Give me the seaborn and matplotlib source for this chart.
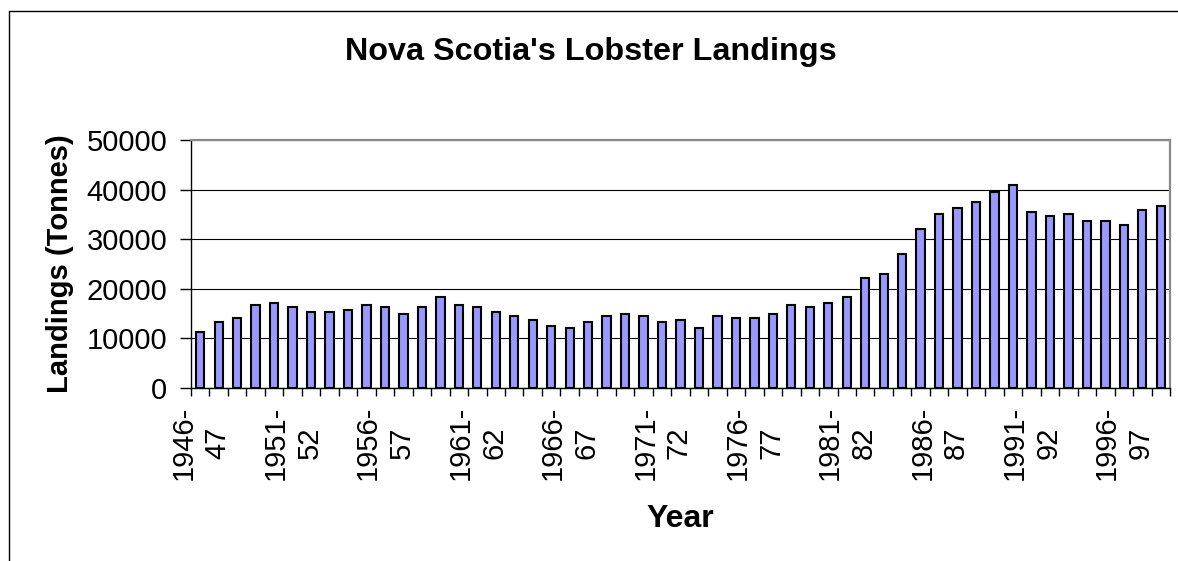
import matplotlib
matplotlib.use("Agg")
import matplotlib.pyplot as plt
from matplotlib.lines import Line2D
import pandas as pd
import seaborn as sns

# Nova Scotia lobster landings by fishing season (tonnes)
seasons = [f"{y}-{(y + 1) % 100:02d}" for y in range(1946, 1999)]
landings = [11300, 13300, 14100, 16700, 17100, 16300, 15400, 15400, 15800, 16700,
            16300, 15000, 16300, 18300, 16700, 16300, 15400, 14600, 13700, 12500,
            12100, 13300, 14600, 15000, 14600, 13300, 13700, 12100, 14600, 14100,
            14100, 15000, 16700, 16300, 17100, 18300, 22100, 22900, 27100, 32100,
            35000, 36300, 37500, 39600, 40900, 35500, 34600, 35000, 33700, 33700,
            32900, 35900, 36700]
tick_labels = ["1946-\n47", "1951-\n52", "1956-\n57", "1961-\n62", "1966-\n67",
               "1971-\n72", "1976-\n77", "1981-\n82", "1986-\n87", "1991-\n92",
               "1996-\n97"]
y_ticks = [0, 10000, 20000, 30000, 40000, 50000]

df = pd.DataFrame({"season": seasons, "landings": landings})

sns.set_theme(style="white")
plt.rcParams["font.family"] = ["Liberation Sans", "DejaVu Sans"]
plt.rcParams["text.color"] = "black"
plt.rcParams["axes.labelcolor"] = "black"
plt.rcParams["xtick.color"] = "black"
plt.rcParams["ytick.color"] = "black"

W, H = 1178, 561
fig = plt.figure(figsize=(W / 100, H / 100), dpi=100)
fig.patch.set_facecolor("white")

# outer chart frame (top and left edges visible)
fx0 = 9 / W
fy1 = 1 - 11 / H
fig.add_artist(Line2D([fx0, 1.0], [fy1, fy1], transform=fig.transFigure,
                      color="black", lw=1.0))
fig.add_artist(Line2D([fx0, fx0], [0.0, fy1], transform=fig.transFigure,
                      color="black", lw=1.0))

ax = fig.add_axes([191 / W, 1 - 388 / H, (1170 - 191) / W, (388 - 140) / H])

sns.barplot(data=df, x="season", y="landings", ax=ax, color="#9999FF",
            saturation=1, width=0.45, edgecolor="black", linewidth=1.5,
            zorder=3)

ax.set_xlim(-0.5, len(seasons) - 0.5)
ax.set_ylim(0, 50000)
ax.set_yticks(y_ticks)
ax.set_yticklabels([str(v) for v in y_ticks], fontsize=21)
ax.yaxis.grid(True, color="black", linewidth=0.8, zorder=0)
ax.set_axisbelow(True)

# category labels every fifth season, boundary ticks between every bar
ax.set_xticks(list(range(0, len(seasons), 5)))
ax.set_xticklabels(tick_labels, rotation=90, fontsize=21,
                   multialignment="center", linespacing=1.25)
ax.set_xticks([i - 0.5 for i in range(len(seasons) + 1)], minor=True)
ax.tick_params(axis="x", which="major", length=0, pad=13)
ax.tick_params(axis="x", which="minor", length=6, width=1, color="black",
               direction="out", bottom=True)
ax.tick_params(axis="y", which="major", length=8, width=1, color="black",
               direction="out", left=True, pad=9)

for side in ("left", "bottom"):
    ax.spines[side].set_color("black")
    ax.spines[side].set_linewidth(1.0)
for side in ("top", "right"):
    ax.spines[side].set_color("#8a8a8a")
    ax.spines[side].set_linewidth(1.6)
    ax.spines[side].set_visible(True)

ax.set_xlabel("Year", fontsize=23, fontweight="bold")
ax.set_ylabel("Landings (Tonnes)", fontsize=21, fontweight="bold")
ax.yaxis.set_label_coords(-(191 - 60) / (1170 - 191), 0.5)
ax.xaxis.set_label_coords(0.5, -(519 - 388) / (388 - 140))
ax.xaxis.label.set_verticalalignment("center")
ax.yaxis.label.set_verticalalignment("center")

fig.text(591 / W, 1 - 52 / H, "Nova Scotia's Lobster Landings", ha="center",
         va="center", fontsize=23.3, fontweight="bold")

fig.savefig("out.png", dpi=100, facecolor="white")
